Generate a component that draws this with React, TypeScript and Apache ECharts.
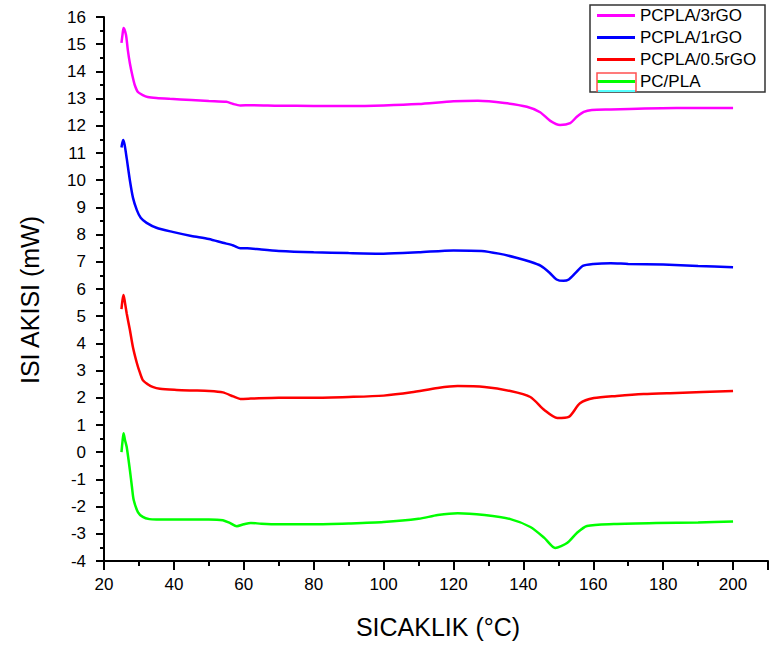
import React, { useEffect, useRef } from "react";
import * as echarts from "echarts";

// DSC heat-flow curves (mW) against temperature (°C)
const seriesNames = ["PCPLA/3rGO", "PCPLA/1rGO", "PCPLA/0.5rGO", "PC/PLA"];
const seriesColors = ["#ff00ff", "#0000ff", "#ff0000", "#00ff00"];

const temp3rGO = [25.0, 25.3, 25.6, 26.3, 26.8, 27.4, 28.2, 28.8, 29.7, 31.1, 32.5, 35, 38.8, 45, 50, 55, 57, 59, 62, 70, 80, 90, 100, 110, 120, 127, 134.6, 141, 144.8, 147.7, 150.5, 153.4, 155.3, 157.3, 159.6, 165, 170.4, 183.8, 200];
const heat3rGO = [15.05, 15.35, 15.6, 15.34, 14.8, 14.3, 13.8, 13.5, 13.24, 13.13, 13.06, 13.02, 12.99, 12.95, 12.91, 12.88, 12.8, 12.75, 12.76, 12.74, 12.73, 12.73, 12.75, 12.8, 12.9, 12.92, 12.84, 12.7, 12.5, 12.18, 12.03, 12.1, 12.33, 12.51, 12.58, 12.6, 12.62, 12.65, 12.65];

const temp1rGO = [25.0, 25.2, 25.5, 25.9, 26.5, 27.4, 28.3, 29.4, 30.5, 32.2, 35, 39.6, 45, 50, 54, 57, 59, 61, 65, 70, 80, 90, 100, 110, 120, 128, 133, 138, 142, 145, 147.5, 149.5, 151.5, 153, 155, 157, 160, 165, 170, 180, 190, 200];
const heat1rGO = [11.2, 11.35, 11.48, 11.3, 10.8, 10.0, 9.35, 8.9, 8.62, 8.43, 8.25, 8.1, 7.95, 7.84, 7.7, 7.6, 7.5, 7.5, 7.45, 7.4, 7.35, 7.32, 7.3, 7.35, 7.42, 7.4, 7.3, 7.15, 7.0, 6.85, 6.6, 6.35, 6.3, 6.35, 6.6, 6.85, 6.92, 6.95, 6.92, 6.9, 6.85, 6.8];

const temp05rGO = [25.0, 25.3, 25.6, 26.0, 26.5, 27.4, 28.3, 29.4, 30.2, 31.1, 32.5, 33.9, 36, 40.8, 45, 50.1, 54, 57, 59, 62, 70, 80, 90, 100, 108, 115.5, 121.2, 128.9, 136.3, 142, 146, 149.7, 153, 156.2, 160.2, 166.7, 174.4, 183.8, 200];
const heat05rGO = [5.26, 5.6, 5.78, 5.5, 5.1, 4.5, 3.85, 3.28, 2.95, 2.65, 2.5, 2.4, 2.33, 2.29, 2.27, 2.25, 2.2, 2.05, 1.96, 1.97, 2.0, 2.0, 2.03, 2.08, 2.2, 2.36, 2.43, 2.4, 2.25, 2.03, 1.55, 1.26, 1.3, 1.8, 1.99, 2.07, 2.14, 2.18, 2.25];

const tempPCPLA = [25.0, 25.3, 25.6, 26.0, 26.5, 27.4, 28.0, 28.5, 29.7, 31.1, 33, 35, 40, 50, 54, 56, 58, 60, 62, 65, 70, 80, 90, 100, 110, 115.5, 121.2, 128.9, 136.3, 142, 146, 149.1, 152.5, 155.3, 158.2, 165.9, 178, 190, 200];
const heatPCPLA = [0.0, 0.4, 0.7, 0.45, 0.19, -0.65, -1.28, -1.76, -2.2, -2.38, -2.46, -2.47, -2.47, -2.47, -2.5, -2.6, -2.72, -2.65, -2.6, -2.63, -2.65, -2.65, -2.62, -2.57, -2.45, -2.31, -2.24, -2.31, -2.46, -2.75, -3.15, -3.52, -3.34, -2.97, -2.71, -2.64, -2.6, -2.58, -2.55];

const temps = [temp3rGO, temp1rGO, temp05rGO, tempPCPLA];
const heats = [heat3rGO, heat1rGO, heat05rGO, heatPCPLA];

const FONT = "'Liberation Sans', Arial, sans-serif";

export default function App() {
  const ref = useRef<HTMLDivElement>(null);

  useEffect(() => {
    if (!ref.current) return;
    const chart = echarts.init(ref.current, null, { renderer: "svg" });

    const series = seriesNames.map((name, k) => ({
      name,
      type: "line",
      xAxisIndex: 0,
      yAxisIndex: 0,
      data: temps[k].map((t, i) => [t, heats[k][i]]),
      showSymbol: false,
      symbol: "none",
      smooth: 0.25,
      lineStyle: { color: seriesColors[k], width: 2.5 },
      itemStyle: { color: seriesColors[k] },
    }));

    chart.setOption({
      animation: false,
      backgroundColor: "#ffffff",
      grid: { left: 104, right: 0, top: 17, bottom: 90, containLabel: false },
      xAxis: [
        {
          type: "value",
          position: "bottom",
          min: 20,
          max: 210,
          interval: 20,
          axisLine: { show: true, onZero: false, lineStyle: { color: "#000", width: 2 } },
          axisTick: { show: true, inside: false, length: 9, lineStyle: { color: "#000", width: 2 } },
          axisLabel: {
            color: "#000",
            fontFamily: FONT,
            fontSize: 17,
            margin: 15,
            formatter: (v: number) => (v > 200 ? "" : String(v)),
          },
          splitLine: { show: false },
        },
        {
          // short ticks at the odd tens
          type: "value",
          position: "bottom",
          offset: 0,
          min: 20,
          max: 210,
          interval: 10,
          axisLine: { show: false, onZero: false },
          axisTick: { show: true, inside: false, length: 5, lineStyle: { color: "#000", width: 2 } },
          axisLabel: { show: false },
          splitLine: { show: false },
        },
      ],
      yAxis: {
        type: "value",
        min: -4,
        max: 16,
        interval: 1,
        axisLine: { show: true, onZero: false, lineStyle: { color: "#000", width: 2 } },
        axisTick: { show: true, inside: false, length: 8, lineStyle: { color: "#000", width: 2 } },
        minorTick: { show: true, splitNumber: 2, length: 4, lineStyle: { color: "#000", width: 2 } },
        axisLabel: { color: "#000", fontFamily: FONT, fontSize: 17, margin: 18 },
        splitLine: { show: false },
        minorSplitLine: { show: false },
      },
      legend: {
        orient: "vertical",
        left: 597,
        top: 7,
        padding: 0,
        icon: "rect",
        itemWidth: 38,
        itemHeight: 3,
        itemGap: 5,
        textStyle: { color: "#000", fontFamily: FONT, fontSize: 17, lineHeight: 17 },
        data: seriesNames,
      },
      graphic: [
        {
          type: "rect",
          shape: { x: 590, y: 5, width: 175, height: 87 },
          style: { fill: "none", stroke: "#333", lineWidth: 1.5 },
          z: 100,
        },
        {
          type: "rect",
          shape: { x: 597, y: 73, width: 39, height: 18 },
          style: { fill: "none", stroke: "#ff5050", lineWidth: 1.5 },
          z: 101,
        },
        {
          type: "line",
          shape: { x1: 598, y1: 91, x2: 635, y2: 91 },
          style: { stroke: "#55ffff", lineWidth: 2 },
          z: 101,
        },
        {
          type: "text",
          x: 438,
          y: 627,
          style: {
            text: "SICAKLIK (°C)",
            font: `25px ${FONT}`,
            fill: "#000",
            textAlign: "center",
            textVerticalAlign: "middle",
          },
        },
        {
          type: "text",
          x: 30,
          y: 300,
          rotation: Math.PI / 2,
          style: {
            text: "ISI AKISI (mW)",
            font: `25px ${FONT}`,
            fill: "#000",
            textAlign: "center",
            textVerticalAlign: "middle",
          },
        },
      ],
      series,
    });

    return () => chart.dispose();
  }, []);

  return <div ref={ref} style={{ width: 771, height: 651, position: "absolute", left: 0, top: 0 }} />;
}
